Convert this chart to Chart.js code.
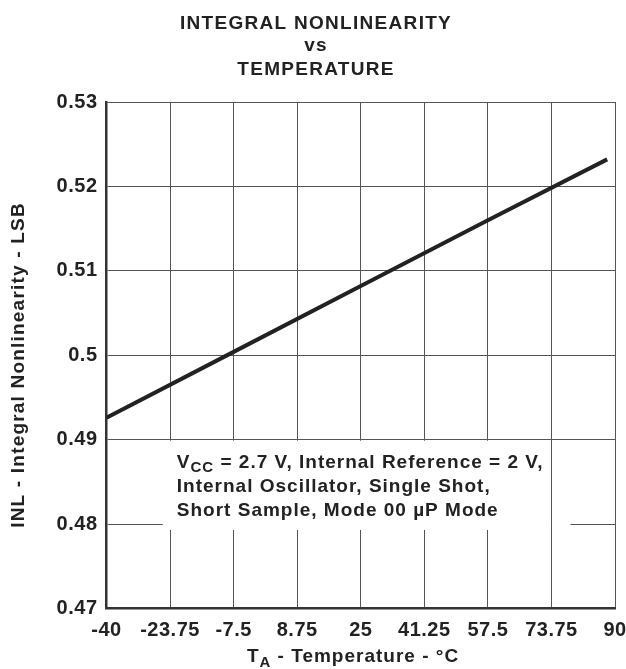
<!DOCTYPE html>
<html>
<head>
<meta charset="utf-8">
<script src="https://cdn.jsdelivr.net/npm/chart.js@4"></script>
<style>
  html, body { margin: 0; padding: 0; background: #fff; }
  #wrap { width: 626px; height: 669px; position: relative; }
</style>
</head>
<body>
<div id="wrap"><canvas id="inl"></canvas></div>
<script>
// ── Data ──────────────────────────────────────────────────────
const xTicks   = [-40, -23.75, -7.5, 8.75, 25, 41.25, 57.5, 73.75, 90];
const yTicks   = [0.47, 0.48, 0.49, 0.5, 0.51, 0.52, 0.53];
const yLabels  = ['0.47', '0.48', '0.49', '0.5', '0.51', '0.52', '0.53'];
const tempC    = [-40, -7.5, 25, 57.5, 88];
const inlLsb   = [0.4926, 0.5004, 0.5082, 0.516, 0.5232];

const titleLines = ['INTEGRAL NONLINEARITY', 'vs', 'TEMPERATURE'];
const noteLines  = ['Internal Oscillator, Single Shot,', 'Short Sample, Mode 00 \u00B5P Mode'];

const FONT = '"Liberation Sans", Arial, Helvetica, sans-serif';
const INK  = '#222';
const GRID = '#555';

// ── Title, axis titles and the note box ───────────────────────
const decor = {
  id: 'decor',
  beforeDraw(chart) {
    // reference lettering is a touch wider than Arial
    chart.ctx.letterSpacing = '0.5px';
  },
  beforeDatasetsDraw(chart) {
    const { ctx, scales: { x, y } } = chart;
    // note box: blank out the grid behind it
    const bl = x.getPixelForValue(-25.6), br = x.getPixelForValue(72.9);
    const bt = y.getPixelForValue(0.49) + 1, bb = y.getPixelForValue(0.4793);
    ctx.save();
    ctx.fillStyle = '#fff';
    ctx.fillRect(bl, bt, br - bl, bb - bt);
    const y48 = y.getPixelForValue(0.48);
    const rEnd = x.getPixelForValue(78.6);
    ctx.fillRect(br, y48 - 3, rEnd - br, 6);
    // the 73.75 grid line runs through that gap
    const x74 = Math.round(x.getPixelForValue(73.75)) + 0.5;
    ctx.strokeStyle = GRID; ctx.lineWidth = 1;
    ctx.beginPath(); ctx.moveTo(x74, y48 - 4); ctx.lineTo(x74, y48 + 4); ctx.stroke();

    // note text
    ctx.fillStyle = INK;
    ctx.textBaseline = 'alphabetic';
    ctx.textAlign = 'left';
    ctx.letterSpacing = '1px';
    const tx = bl + 14;
    const ty = bt + 27;
    ctx.font = 'bold 19px ' + FONT;
    ctx.fillText('V', tx, ty);
    let w = ctx.measureText('V').width;
    ctx.font = 'bold 15px ' + FONT;
    ctx.fillText('CC', tx + w, ty + 4);
    w += ctx.measureText('CC').width;
    ctx.font = 'bold 19px ' + FONT;
    ctx.fillText(' = 2.7 V, Internal Reference = 2 V,', tx + w, ty);
    noteLines.forEach((s, i) => ctx.fillText(s, tx, ty + 24 * (i + 1)));
    ctx.restore();
  },
  afterDraw(chart) {
    const { ctx, chartArea: a } = chart;
    ctx.save();
    ctx.fillStyle = INK;
    ctx.textAlign = 'center';
    ctx.textBaseline = 'middle';
    ctx.letterSpacing = '1.3px';
    ctx.font = 'bold 19px ' + FONT;
    const cx = 316;
    [24, 46, 70].forEach((yy, i) => ctx.fillText(titleLines[i], cx, yy));

    // x axis title with subscript
    ctx.letterSpacing = '1px';
    ctx.font = 'bold 19px ' + FONT;
    const rest = ' - Temperature - \u00B0C';
    const wT = ctx.measureText('T').width;
    const wR = ctx.measureText(rest).width;
    ctx.font = 'bold 15px ' + FONT;
    const wA = ctx.measureText('A').width;
    const sx = 353 - (wT + wA + wR) / 2;
    ctx.textAlign = 'left';
    ctx.textBaseline = 'alphabetic';
    ctx.font = 'bold 19px ' + FONT;
    ctx.fillText('T', sx, 662);
    ctx.font = 'bold 15px ' + FONT;
    ctx.fillText('A', sx + wT, 667);
    ctx.font = 'bold 19px ' + FONT;
    ctx.fillText(rest, sx + wT + wA, 662);

    // y axis title
    ctx.letterSpacing = '1.2px';
    ctx.translate(19, 365);
    ctx.rotate(-Math.PI / 2);
    ctx.textAlign = 'center';
    ctx.textBaseline = 'middle';
    ctx.fillText('INL - Integral Nonlinearity - LSB', 0, 0);
    ctx.restore();
  }
};

const tickFont = { family: FONT, size: 20, weight: 'bold' };

new Chart(document.getElementById('inl'), {
  type: 'line',
  data: {
    datasets: [{
      data: tempC.map((t, i) => ({ x: t, y: inlLsb[i] })),
      borderColor: INK,
      borderWidth: 4,
      pointRadius: 0,
      tension: 0,
      fill: false
    }]
  },
  options: {
    responsive: true,
    maintainAspectRatio: false,
    animation: false,
    layout: { padding: { top: 102, right: 11, left: 0, bottom: 0 } },
    plugins: { legend: { display: false }, tooltip: { enabled: false } },
    scales: {
      x: {
        type: 'linear', min: -40, max: 90,
        afterBuildTicks: s => { s.ticks = xTicks.map(v => ({ value: v })); },
        afterFit: s => { s.height = 60.5; s.paddingLeft = 0; s.paddingRight = 0; },
        ticks: { color: INK, font: tickFont, padding: 10, autoSkip: false, maxRotation: 0,
                 callback: v => String(v) },
        grid: { color: GRID, lineWidth: 1, drawTicks: false },
        border: { color: '#333', width: 2.5 }
      },
      y: {
        type: 'linear', min: 0.47, max: 0.53,
        afterBuildTicks: s => { s.ticks = yTicks.map(v => ({ value: v })); },
        afterFit: s => { s.width = 106.5; s.paddingTop = 0; s.paddingBottom = 0; },
        ticks: { color: INK, font: tickFont, padding: 9, autoSkip: false,
                 callback: (v, i) => yLabels[i] },
        grid: { color: GRID, lineWidth: 1, drawTicks: false },
        border: { color: '#333', width: 2.5 }
      }
    }
  },
  plugins: [decor]
});
</script>
</body>
</html>
